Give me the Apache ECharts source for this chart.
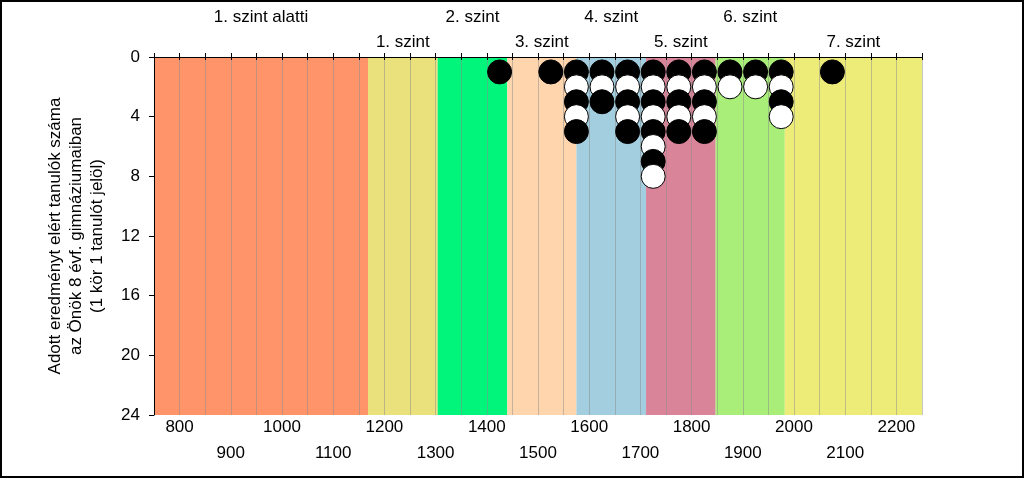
<!DOCTYPE html>
<html>
<head>
<meta charset="utf-8">
<script src="https://cdn.jsdelivr.net/npm/echarts@6/dist/echarts.min.js"></script>
<style>html,body{margin:0;padding:0;background:#fff}#c{width:1024px;height:478px}</style>
</head>
<body>
<div id="c"></div>
<script>
// Level bands (score boundaries) and names
const bandEdges = [750, 1168, 1304, 1440, 1575, 1711, 1847, 1982, 2250];
const bandNames = ['1. szint alatti', '1. szint', '2. szint', '3. szint', '4. szint', '5. szint', '6. szint', '7. szint'];
const bandColors = ['#FF946A', '#EAE07C', '#00F57A', '#FFD5AD', '#A3CEE0', '#DA849A', '#A8EE78', '#EEEC78'];
// Dot columns: score and number of students
const scores = [1425, 1525, 1575, 1625, 1675, 1725, 1775, 1825, 1875, 1925, 1975, 2075];
const counts = [1, 1, 5, 3, 5, 8, 5, 5, 2, 2, 4, 1];
const yTicks = [0, 4, 8, 12, 16, 20, 24];

const FONT = 'Liberation Sans, Arial, sans-serif';
const FS = 17;

const areas = bandNames.map((n, i) => [
  {
    name: n, xAxis: bandEdges[i],
    itemStyle: { color: bandColors[i], opacity: 1 },
    label: { show: true, position: 'top', distance: i % 2 === 0 ? 31 : 6, color: '#000', fontSize: FS, fontFamily: FONT }
  },
  { xAxis: bandEdges[i + 1] }
]);

const dots = [];
scores.forEach((s, i) => {
  for (let k = 1; k <= counts[i]; k++) {
    dots.push({ value: [s, k], itemStyle: { color: k % 2 === 1 ? '#000' : '#fff' } });
  }
});

const chart = echarts.init(document.getElementById('c'));
chart.setOption({
  animation: false,
  grid: { left: 154, right: 102, top: 57, bottom: 63 },
  xAxis: [
    {
      type: 'value', position: 'bottom', min: 750, max: 2250, interval: 50, z: 3,
      axisLine: { show: true, lineStyle: { color: '#000', width: 1 } },
      axisTick: { show: true, length: 3, lineStyle: { color: '#000' } },
      splitLine: { show: true, lineStyle: { color: 'rgba(140,140,140,0.5)', width: 1 } },
      axisLabel: {
        margin: 4, color: '#000', fontSize: FS, fontFamily: FONT,
        formatter: v => v % 200 === 0 ? '{a|' + v + '}' : (v % 100 === 0 ? '{b|' + v + '}' : ''),
        rich: {
          a: { fontSize: FS, fontFamily: FONT, color: '#000' },
          b: { fontSize: FS, fontFamily: FONT, color: '#000', padding: [26, 0, 0, 0] }
        }
      }
    },
    {
      type: 'value', position: 'top', min: 750, max: 2250, interval: 50, z: 3,
      axisLine: { show: true, lineStyle: { color: '#000', width: 1 } },
      axisTick: { show: true, length: 4, lineStyle: { color: '#000' } },
      splitLine: { show: false },
      axisLabel: { show: false }
    }
  ],
  yAxis: {
    type: 'value', inverse: true, min: 0, max: 24, interval: 4, z: 3,
    name: 'Adott eredményt elért tanulók száma\naz Önök 8 évf. gimnáziumaiban\n(1 kör 1 tanulót jelöl)',
    nameLocation: 'middle', nameGap: 46,
    nameTextStyle: { color: '#000', fontSize: FS, fontFamily: FONT, lineHeight: 21 },
    axisLine: { show: true, lineStyle: { color: '#000', width: 1 } },
    axisTick: { show: true, length: 5, lineStyle: { color: '#000' } },
    splitLine: { show: false },
    axisLabel: { color: '#000', fontSize: FS, fontFamily: FONT, margin: 14, customValues: yTicks },
  },
  series: [
    {
      type: 'scatter', z: 1, data: [], silent: true,
      markArea: { silent: true, data: areas }
    },
    {
      type: 'scatter', z: 5, symbol: 'circle', symbolSize: 24,
      itemStyle: { borderColor: '#000', borderWidth: 1, opacity: 1 },
      data: dots
    }
  ],
  graphic: [{
    type: 'rect', z: 100, silent: true,
    shape: { x: 1, y: 1, width: 1022, height: 476 },
    style: { fill: 'none', stroke: '#000', lineWidth: 2 }
  }]
});
</script>
</body>
</html>
